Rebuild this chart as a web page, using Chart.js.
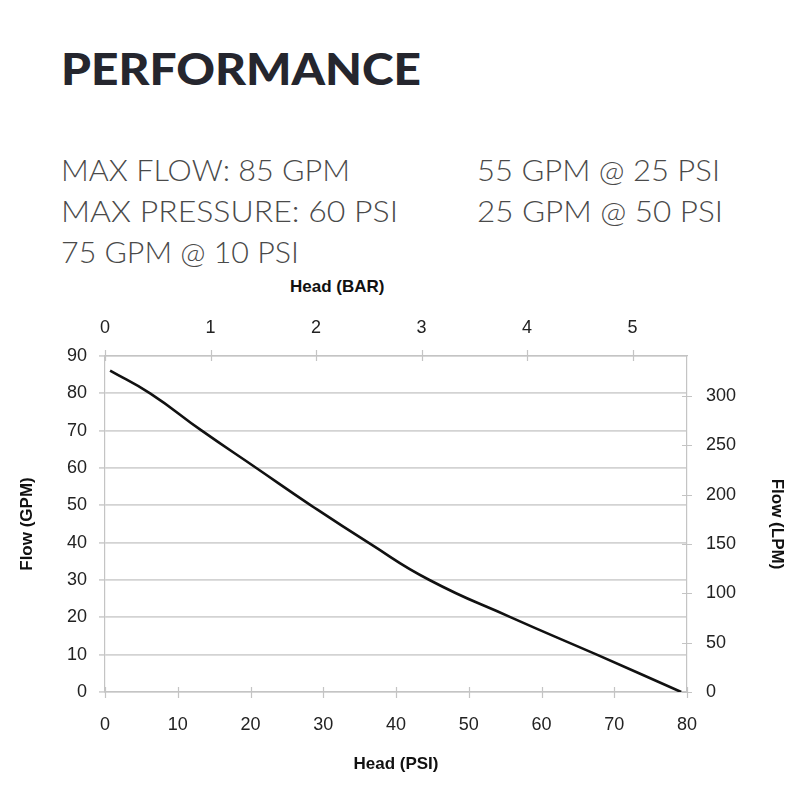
<!DOCTYPE html>
<html><head><meta charset="utf-8">
<script src="https://cdn.jsdelivr.net/npm/chart.js@4.4.1/dist/chart.umd.min.js"></script>
<style>
html,body{margin:0;padding:0;background:#fff;width:800px;height:800px;overflow:hidden;}
.t{position:absolute;white-space:nowrap;transform-origin:0 0;line-height:1;}
#title{font-family:Lato,"Open Sans",sans-serif;font-weight:900;font-size:44px;color:#25262e;left:61px;top:46px;}
.spec{font-family:Lato,"Open Sans",sans-serif;font-weight:300;font-size:30px;color:#4a4a4a;}
#bar{font-family:"Liberation Sans",Arial,sans-serif;font-weight:bold;font-size:17px;color:#111;left:290px;top:278px;}
#wrap{position:absolute;left:0;top:265px;width:800px;height:535px;}
</style></head>
<body>
<div id="title" class="t" data-w="360">PERFORMANCE</div>
<div class="t spec" style="left:61px;top:154px" data-w="289">MAX FLOW: 85 GPM</div>
<div class="t spec" style="left:61px;top:195px" data-w="337">MAX PRESSURE: 60 PSI</div>
<div class="t spec" style="left:61px;top:236px" data-w="238">75 GPM @ 10 PSI</div>
<div class="t spec" style="left:477px;top:154px" data-w="243">55 GPM @ 25 PSI</div>
<div class="t spec" style="left:477px;top:195px" data-w="246">25 GPM @ 50 PSI</div>
<div id="bar" class="t">Head (BAR)</div>
<div id="wrap"><canvas id="c" width="800" height="535"></canvas></div>
<script>
// ---- data ----
const headPsi = [0.7, 6.2, 13.3, 20.8, 28.3, 36.2, 44.6, 55.8, 67.6, 79.2];
const flowGpm = [86.1, 80, 70, 60, 50, 40, 30, 20, 10, 0];
const psiRange = [0, 80];
const gpmRange = [0, 90];
const PSI_PER_BAR = 14.5038;
const LPM_PER_GPM = 3.78541;
const axisTitles = {x: 'Head (PSI)', y: 'Flow (GPM)', y2: 'Flow (LPM)'};

// ---- text width fitting ----
document.querySelectorAll('[data-w]').forEach(el => {
  const w = el.getBoundingClientRect().width;
  el.style.transform = 'scaleX(' + (parseFloat(el.dataset.w) / w) + ')';
});

const tickFont = {family: '"Liberation Sans", Arial, sans-serif', size: 18};
const titleFont = {family: '"Liberation Sans", Arial, sans-serif', size: 17, weight: 'bold'};
const borderColor = '#c4c4c4';

const crossTicks = {
  id: 'crossTicks',
  afterDraw(chart) {
    const ctx = chart.ctx, a = chart.chartArea;
    ctx.save();
    ctx.strokeStyle = borderColor;
    ctx.lineWidth = 1.2;
    ctx.beginPath();
    const sx = chart.scales.x, sx2 = chart.scales.x2, sy2 = chart.scales.y2;
    sx.ticks.forEach(t => { const p = Math.round(sx.getPixelForValue(t.value)) + 0.5; ctx.moveTo(p, a.bottom - 5); ctx.lineTo(p, a.bottom + 6); });
    sx2.ticks.forEach(t => { const p = Math.round(sx2.getPixelForValue(t.value)) + 0.5; ctx.moveTo(p, a.top - 6); ctx.lineTo(p, a.top + 5); });
    sy2.ticks.forEach(t => { const p = Math.round(sy2.getPixelForValue(t.value)) + 0.5; ctx.moveTo(a.right - 5, p); ctx.lineTo(a.right + 5, p); });
    ctx.stroke();
    ctx.restore();
  }
};

new Chart(document.getElementById('c'), {
  type: 'line',
  data: {
    datasets: [{
      data: headPsi.map((x, i) => ({x: x, y: flowGpm[i]})),
      borderColor: '#111',
      borderWidth: 2.6,
      pointRadius: 0,
      tension: 0.5,
      fill: false
    }]
  },
  plugins: [crossTicks],
  options: {
    responsive: false,
    animation: false,
    devicePixelRatio: 1,
    layout: {padding: 0},
    plugins: {legend: {display: false}, tooltip: {enabled: false}},
    scales: {
      x: {
        type: 'linear', position: 'bottom', min: psiRange[0], max: psiRange[1],
        ticks: {stepSize: 10, font: tickFont, color: '#222', padding: 22, maxRotation: 0},
        grid: {drawOnChartArea: false, drawTicks: false},
        border: {display: true, color: borderColor, width: 1.2},
        title: {display: true, text: axisTitles.x, font: titleFont, color: '#111', padding: {top: 0, bottom: 25}},
        afterFit: s => { s.height = 108; }
      },
      x2: {
        type: 'linear', position: 'top', min: psiRange[0] / PSI_PER_BAR, max: psiRange[1] / PSI_PER_BAR,
        ticks: {stepSize: 1, includeBounds: false, font: tickFont, color: '#222', padding: 17, maxRotation: 0},
        grid: {drawOnChartArea: false, drawTicks: false},
        border: {display: true, color: borderColor, width: 1.2},
        afterFit: s => { s.height = 91; }
      },
      y: {
        type: 'linear', position: 'left', min: gpmRange[0], max: gpmRange[1],
        ticks: {stepSize: 10, font: tickFont, color: '#222', padding: 12},
        grid: {color: '#d3d3d3', lineWidth: 1.8, tickLength: 6, drawTicks: true},
        border: {display: true, color: borderColor, width: 1.2},
        title: {display: true, text: axisTitles.y, font: titleFont, color: '#111', padding: {top: 17, bottom: 0}},
        afterFit: s => { s.width = 105; }
      },
      y2: {
        type: 'linear', position: 'right', min: gpmRange[0] * LPM_PER_GPM, max: gpmRange[1] * LPM_PER_GPM,
        ticks: {stepSize: 50, includeBounds: false, font: tickFont, color: '#222', padding: 19},
        grid: {drawOnChartArea: false, drawTicks: false},
        border: {display: true, color: borderColor, width: 1.2},
        title: {display: true, text: axisTitles.y2, font: titleFont, color: '#111', padding: {top: 13, bottom: 0}},
        afterFit: s => { s.width = 113; }
      }
    }
  }
});
</script>
</body></html>
